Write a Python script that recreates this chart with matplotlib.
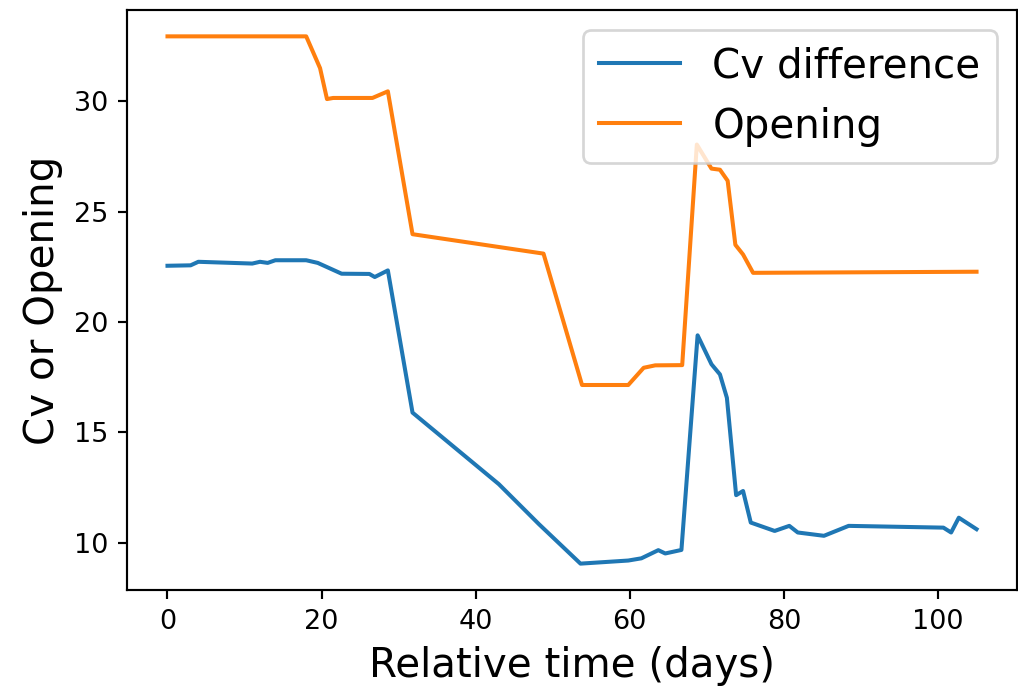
import matplotlib
matplotlib.use("Agg")
import matplotlib.pyplot as plt

# Cv difference over time
dias_cv = [0, 3, 4, 11, 12, 13, 14, 18, 19.5, 22.6, 26.2, 26.9, 28.6, 31.8,
           43, 48.2, 53.6, 59.8, 61.5, 63.7, 64.6, 66.7, 68.8, 70.6, 71.7,
           72.6, 73.8, 74.7, 75.7, 78.8, 80.7, 81.8, 85.2, 88.4, 100.7,
           101.7, 102.7, 105]
cv = [22.55, 22.57, 22.73, 22.65, 22.73, 22.68, 22.8, 22.8, 22.68, 22.19,
      22.18, 22.04, 22.34, 15.9, 12.66, 10.85, 9.06, 9.2, 9.3, 9.67, 9.52,
      9.68, 19.4, 18.09, 17.63, 16.57, 12.16, 12.35, 10.92, 10.54, 10.77,
      10.47, 10.32, 10.77, 10.69, 10.47, 11.14, 10.62]

# Valve opening over time
dias_ap = [0, 18, 19.8, 20.7, 21.5, 26.6, 28.6, 31.8, 48.8, 53.8, 59.8,
           61.8, 63.3, 66.8, 68.7, 70.6, 71.7, 72.7, 73.7, 74.7, 76, 105]
apertura = [32.94, 32.94, 31.5, 30.1, 30.15, 30.15, 30.45, 23.98, 23.1,
            17.15, 17.15, 17.93, 18.04, 18.05, 28.04, 26.95, 26.9, 26.4,
            23.5, 23.06, 22.23, 22.28]

dpi = 194
fig = plt.figure(figsize=(1018 / dpi, 689 / dpi), dpi=dpi)
ax = fig.add_axes([0.1248, 0.1437, 0.8742, 0.8418])

ax.plot(dias_cv, cv, label="Cv difference")
ax.plot(dias_ap, apertura, label="Opening")

ax.set_xlabel("Relative time (days)", fontsize=15)
ax.set_ylabel("Cv or Opening", fontsize=15)
ax.legend(loc="upper right", fontsize=15)

fig.savefig("out.png", dpi=dpi)
